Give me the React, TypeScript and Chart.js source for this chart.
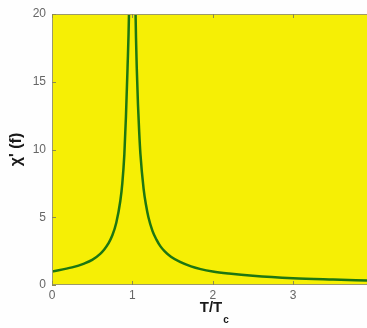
import React, { useEffect, useRef } from "react";
import { Chart, registerables } from "chart.js";

Chart.register(...registerables);

// Reduced temperature T/Tc
const tValues = [0, 0.25, 0.4, 0.5, 0.6, 0.65, 0.7, 0.75, 0.8, 0.85, 0.875, 0.9, 0.92, 0.94, 0.958, 0.975, 1.0,
  1.025, 1.04, 1.055, 1.07, 1.085, 1.1, 1.14, 1.17, 1.2, 1.25, 1.3, 1.35, 1.4, 1.48, 1.6, 1.73, 1.85,
  2.0, 2.2, 2.5, 3.0, 3.5, 3.92];
// Susceptibility chi'(f)
const chiValues = [1.0, 1.3, 1.58, 1.85, 2.3, 2.62, 3.05, 3.65, 4.6, 6.2, 7.5, 9.6, 12.4, 16, 20, 28, null,
  28, 20, 16, 13.3, 11.3, 9.7, 7.1, 5.9, 5.0, 4.0, 3.35, 2.85, 2.5, 2.08, 1.68, 1.37, 1.17,
  1.0, 0.85, 0.68, 0.5, 0.4, 0.33];

const xTicks = [0, 1, 2, 3];
const yTicks = [0, 5, 10, 15, 20];

export default function App() {
  const ref = useRef<HTMLCanvasElement>(null);

  useEffect(() => {
    const canvas = ref.current!;
    const deco = {
      id: "deco",
      beforeDraw(chart: any) {
        const { ctx, chartArea: a } = chart;
        ctx.save();
        ctx.fillStyle = "#f6ef05";
        ctx.fillRect(a.left, a.top, a.right - a.left, a.bottom - a.top);
        ctx.restore();
      },
      afterDraw(chart: any) {
        const { ctx, chartArea: a, scales } = chart;
        const xs = scales.x, ys = scales.y;
        ctx.save();
        // box border
        ctx.strokeStyle = "#9c9a6a";
        ctx.lineWidth = 1;
        ctx.beginPath();
        ctx.moveTo(a.left + 0.5, a.top + 0.5);
        ctx.lineTo(a.right, a.top + 0.5);
        ctx.moveTo(a.left + 0.5, a.top);
        ctx.lineTo(a.left + 0.5, a.bottom);
        ctx.moveTo(a.left, a.bottom - 0.5);
        ctx.lineTo(a.right, a.bottom - 0.5);
        ctx.stroke();
        // inner ticks
        ctx.strokeStyle = "#8c8a50";
        ctx.beginPath();
        xTicks.forEach((v) => {
          const px = Math.round(xs.getPixelForValue(v)) + 0.5;
          ctx.moveTo(px, a.bottom);
          ctx.lineTo(px, a.bottom - 4);
          ctx.moveTo(px, a.top);
          ctx.lineTo(px, a.top + 4);
        });
        yTicks.forEach((v) => {
          const py = Math.round(ys.getPixelForValue(v)) + 0.5;
          ctx.moveTo(a.left, py);
          ctx.lineTo(a.left + 4, py);
        });
        ctx.stroke();
        // axis titles
        ctx.fillStyle = "#1a1a1a";
        ctx.textAlign = "center";
        ctx.textBaseline = "middle";
        ctx.font = "bold 15px 'Liberation Sans', Arial, sans-serif";
        ctx.fillText("T/T", 211, 308);
        ctx.font = "bold 10px 'Liberation Sans', Arial, sans-serif";
        ctx.fillText("c", 226, 320);
        ctx.translate(17, (a.top + a.bottom) / 2);
        ctx.rotate(-Math.PI / 2);
        ctx.font = "bold 16px 'Liberation Sans', Arial, sans-serif";
        ctx.fillText("χ' (f)", 0, 0);
        ctx.restore();
      },
    };

    const chart = new Chart(canvas, {
      type: "line",
      data: {
        datasets: [
          {
            data: tValues.map((t, i) => ({ x: t, y: chiValues[i] as any })),
            borderColor: "#1d7612",
            borderWidth: 2.5,
            pointRadius: 0,
            cubicInterpolationMode: "monotone",
            spanGaps: false,
            clip: 0,
          } as any,
        ],
      },
      options: {
        responsive: false,
        animation: false,
        devicePixelRatio: 1,
        layout: { padding: { top: 14, right: 0, left: 0, bottom: 0 } },
        plugins: { legend: { display: false }, tooltip: { enabled: false } },
        scales: {
          x: {
            type: "linear",
            min: 0,
            max: 3.92,
            afterFit: (s: any) => { s.height = 43; },
            afterBuildTicks: (s: any) => { s.ticks = xTicks.map((v) => ({ value: v })); },
            grid: { display: false, drawTicks: false },
            border: { display: false },
            ticks: {
              padding: 3,
              color: "#666666",
              font: { size: 12, family: "'Liberation Sans', Arial, sans-serif" },
              callback: (v: any) => String(v),
            },
          },
          y: {
            type: "linear",
            min: 0,
            max: 20,
            afterFit: (s: any) => { s.width = 52; },
            afterBuildTicks: (s: any) => { s.ticks = yTicks.map((v) => ({ value: v })); },
            grid: { display: false, drawTicks: false },
            border: { display: false },
            ticks: {
              padding: 6,
              color: "#666666",
              font: { size: 12, family: "'Liberation Sans', Arial, sans-serif" },
              callback: (v: any) => String(v),
            },
          },
        },
      },
      plugins: [deco],
    });
    return () => chart.destroy();
  }, []);

  return (
    <div style={{ position: "fixed", left: 0, top: 0, width: 367, height: 328, background: "#fefefe" }}>
      <canvas ref={ref} width={367} height={328} style={{ width: 367, height: 328 }} />
    </div>
  );
}
